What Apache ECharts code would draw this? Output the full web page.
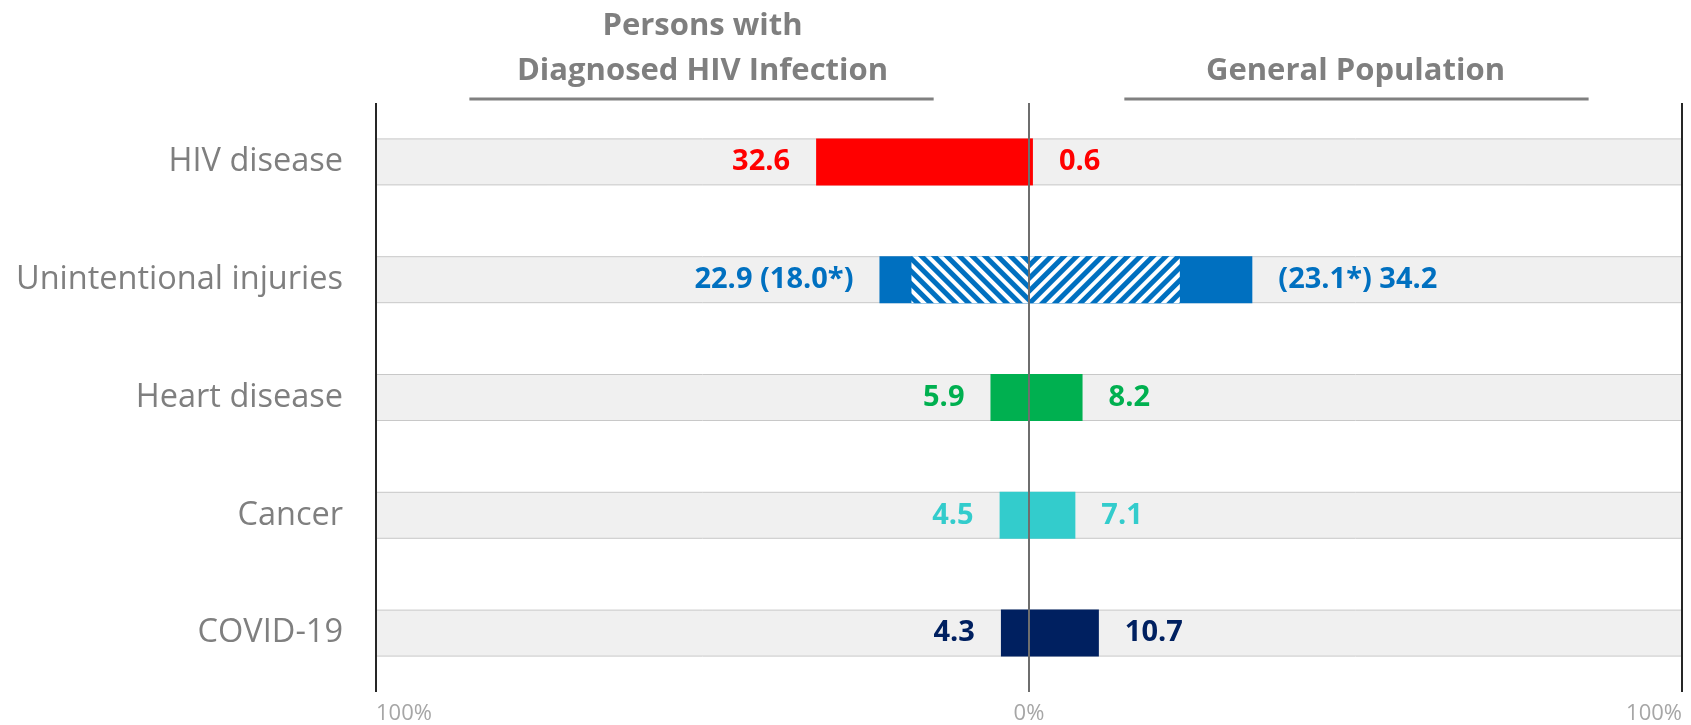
<!DOCTYPE html>
<html>
<head>
<meta charset="utf-8">
<script src="https://cdn.jsdelivr.net/npm/echarts@6/dist/echarts.min.js"></script>
<style>
  html, body { margin: 0; padding: 0; background: #fff; }
  #chart { width: 1691px; height: 725px; }
</style>
</head>
<body>
<div id="chart"></div>
<script>
// Leading causes of death: share (%) among persons with diagnosed HIV vs. the general population
const causes = ['HIV disease', 'Unintentional injuries', 'Heart disease', 'Cancer', 'COVID-19'];
const hivPct = [32.6, 22.9, 5.9, 4.5, 4.3];
const hivHatched = [null, 18.0, null, null, null];
const genPct = [0.6, 34.2, 8.2, 7.1, 10.7];
const genHatched = [null, 23.1, null, null, null];
const causeColors = ['#ff0000', '#0070c0', '#00b050', '#33cccc', '#002060'];
const panelTitles = ['Persons with\nDiagnosed HIV Infection', 'General Population'];
const axisMax = 100;

const FONT = 'Open Sans';
const fmt = v => v.toFixed(1);

const chart = echarts.init(document.getElementById('chart'), null, { renderer: 'canvas' });

const barW = 47;
const bgStyle = { color: '#f0f0f0', borderColor: '#c8c8c8', borderWidth: 1 };

const valueLabel = (side, values, hatched) => ({
  show: true,
  position: side,
  distance: 26,
  fontFamily: FONT,
  fontWeight: 'bold',
  fontSize: 29,
  padding: [7, 0, 0, 0],
  formatter: p => {
    const i = p.dataIndex;
    const v = fmt(values[i]);
    const h = hatched[i];
    if (h == null) return v;
    return side === 'left' ? `${v} (${fmt(h)}*)` : `(${fmt(h)}*) ${v}`;
  },
  color: 'inherit'
});

const option = {
  animation: false,
  backgroundColor: '#ffffff',
  grid: { left: 376, right: 9, top: 103, bottom: 32, containLabel: false },
  xAxis: {
    type: 'value',
    min: -axisMax,
    max: axisMax,
    interval: axisMax,
    z: 10,
    axisLine: { show: false },
    axisTick: { show: false },
    splitLine: {
      show: true,
      lineStyle: { color: ['#262626', '#6e6e6e', '#262626'], width: 2 }
    },
    axisLabel: {
      formatter: v => Math.abs(v) + '%',
      color: '#a6a6a6',
      fontFamily: FONT,
      fontSize: 22,
      margin: 11,
      alignMinLabel: 'left',
      alignMaxLabel: 'right'
    }
  },
  yAxis: {
    type: 'category',
    data: causes,
    inverse: true,
    axisLine: { show: false },
    axisTick: { show: false },
    splitLine: { show: false },
    axisLabel: {
      color: '#7f7f7f',
      fontFamily: FONT,
      fontSize: 32.5,
      margin: 33,
      padding: [12, 0, 0, 0]
    }
  },
  series: [
    {
      name: 'band-left', type: 'bar', barWidth: barW, barGap: '-100%',
      silent: true, itemStyle: bgStyle,
      data: causes.map(() => -axisMax)
    },
    {
      name: 'band-right', type: 'bar', barWidth: barW, barGap: '-100%',
      silent: true, itemStyle: bgStyle,
      data: causes.map(() => axisMax)
    },
    {
      name: 'Persons with Diagnosed HIV Infection', type: 'bar', barWidth: barW, barGap: '-100%',
      data: hivPct.map((v, i) => ({ value: -v, itemStyle: { color: causeColors[i] } })),
      label: valueLabel('left', hivPct, hivHatched)
    },
    {
      name: 'General Population', type: 'bar', barWidth: barW, barGap: '-100%',
      data: genPct.map((v, i) => ({ value: v, itemStyle: { color: causeColors[i] } })),
      label: valueLabel('right', genPct, genHatched)
    },
    {
      name: 'HIV hatched', type: 'bar', barWidth: barW, barGap: '-100%',
      data: hivHatched.map((v, i) => v == null ? null : ({
        value: -v,
        itemStyle: {
          color: causeColors[i],
          decal: { symbol: 'rect', symbolSize: 1, dashArrayX: [1, 0], dashArrayY: [4, 5], rotation: Math.PI / 4, color: '#ffffff' }
        }
      }))
    },
    {
      name: 'General hatched', type: 'bar', barWidth: barW, barGap: '-100%',
      data: genHatched.map((v, i) => v == null ? null : ({
        value: v,
        itemStyle: {
          color: causeColors[i],
          decal: { symbol: 'rect', symbolSize: 1, dashArrayX: [1, 0], dashArrayY: [4, 5], rotation: -Math.PI / 4, color: '#ffffff' }
        }
      }))
    }
  ]
};

chart.setOption(option);

// Panel headings sit over the centre of each half of the axis, underlined.
const px = v => chart.convertToPixel({ gridIndex: 0 }, [v, causes[0]])[0];
const headStyle = { fontFamily: FONT, fontWeight: 'bold', fontSize: 31, color: '#7f7f7f', lineHeight: 45 };
const ulY = 99;
chart.setOption({
  title: [
    { text: panelTitles[0], left: px(-50), top: 4, textAlign: 'center', textStyle: headStyle, padding: 0 },
    { text: panelTitles[1], left: px(50), top: 49, textAlign: 'center', textStyle: headStyle, padding: 0 }
  ],
  graphic: [
    { type: 'line', shape: { x1: px(-85.7), y1: ulY, x2: px(-14.6), y2: ulY }, style: { stroke: '#808080', lineWidth: 3 } },
    { type: 'line', shape: { x1: px(14.6), y1: ulY, x2: px(85.7), y2: ulY }, style: { stroke: '#808080', lineWidth: 3 } }
  ]
});
</script>
</body>
</html>
